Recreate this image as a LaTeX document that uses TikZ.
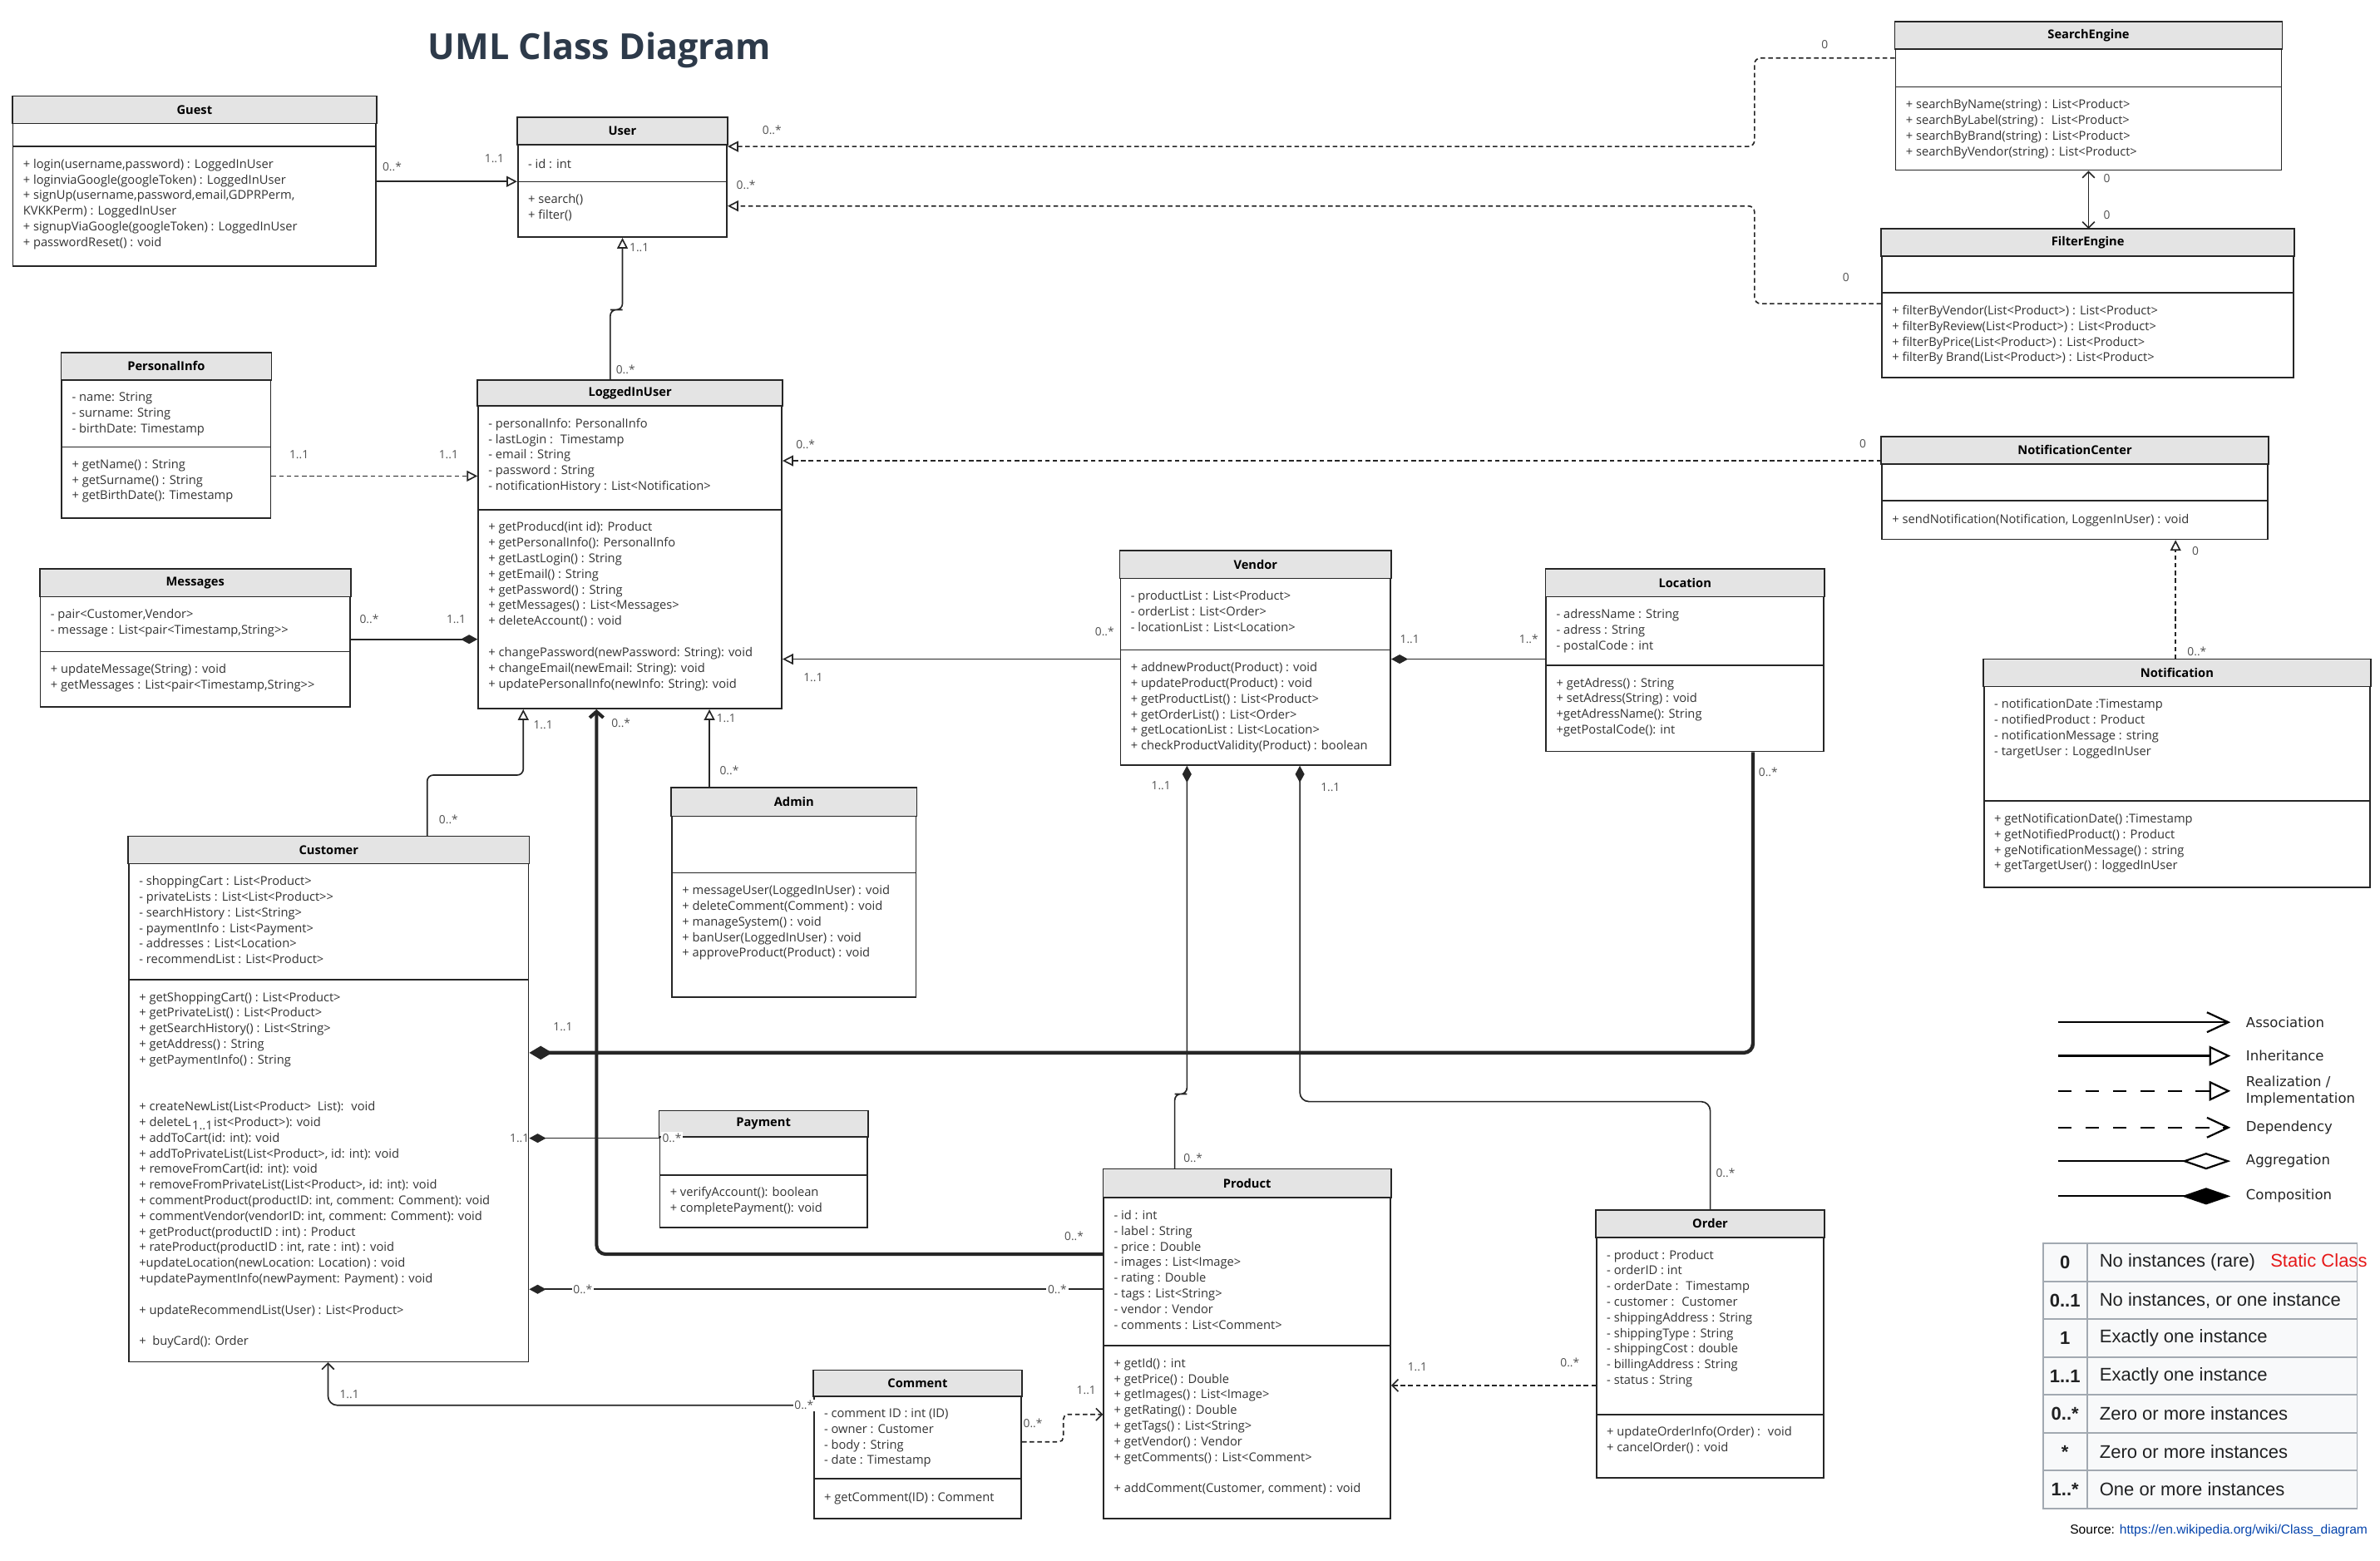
\documentclass[tikz,border=0pt]{standalone}
\usepackage{fontspec}
\setmainfont{Open Sans}
\newfontfamily\legendfont{DejaVu Sans}
\newfontfamily\wikifont{Liberation Sans}
\usepackage{xcolor}
\definecolor{headcolour}{RGB}{228,228,228}
\definecolor{linecolour}{RGB}{38,38,38}
\definecolor{textcolour}{RGB}{51,51,51}
\definecolor{labelcolour}{RGB}{80,80,80}
\definecolor{titlecolour}{RGB}{45,58,74}
\definecolor{tablefill}{RGB}{248,249,250}
\definecolor{tableline}{RGB}{162,169,177}
\definecolor{tabletext}{RGB}{32,33,34}
\definecolor{linkcolour}{RGB}{6,69,173}
\definecolor{staticcolour}{RGB}{230,25,25}
\usetikzlibrary{arrows.meta, shapes.geometric}
\tikzstyle{classbox} = [rectangle, draw=linecolour, fill=white, line width=0.9pt, inner sep=0pt]
\tikzstyle{classhead} = [draw=linecolour, fill=headcolour, line width=0.9pt]
\tikzstyle{classname} = [font=\fontsize{8}{10}\selectfont\bfseries, text=black, inner sep=0pt]
\tikzstyle{classtext} = [anchor=north west, align=left, inner sep=0pt, font=\fontsize{8}{10.25}\selectfont, text=textcolour, execute at begin node=\strut]
\tikzstyle{mult} = [font=\fontsize{7.5}{9}\selectfont, text=labelcolour, inner sep=1pt]
\tikzstyle{multbg} = [mult, fill=white]
\tikzstyle{link} = [line width=0.9pt, draw=linecolour]
\tikzstyle{inherit} = [link, -{Triangle[open, length=7pt, width=7pt]}]
\tikzstyle{realize} = [inherit, dash pattern=on 3pt off 2pt]
\tikzstyle{assoc} = [link, -{Straight Barb[length=4pt, width=8pt]}]
\tikzstyle{assocboth} = [link, {Straight Barb[length=4pt, width=8pt]}-{Straight Barb[length=4pt, width=8pt]}]
\tikzstyle{assocthick} = [link, line width=2.2pt, -{Straight Barb[length=4pt, width=9pt]}]
\tikzstyle{depend} = [assoc, dash pattern=on 3pt off 2pt]
\tikzstyle{compose} = [link, -{Diamond[length=11pt, width=6pt]}]
\tikzstyle{composethick} = [link, line width=2.4pt, -{Diamond[length=15pt, width=9pt]}]
\tikzstyle{legendline} = [line width=1.2pt, draw=black]
\tikzstyle{legendtext} = [anchor=west, align=left, inner sep=0pt, font=\legendfont\fontsize{9}{11}\selectfont, text=black!85]
\tikzstyle{tablenum} = [font=\wikifont\fontsize{12}{14}\selectfont\bfseries, text=tabletext, inner sep=0pt]
\tikzstyle{tabletxt} = [anchor=west, font=\wikifont\fontsize{12}{14}\selectfont, text=tabletext, inner sep=0pt]
\newcommand{\umlclass}[9]{
	\node (#1) [classbox, anchor=north west, minimum width=#3, minimum height=#4+#5+#6] at (#2) {};
	\draw [classhead] (#1.north west) rectangle ([yshift=-#4]#1.north east);
	\draw [link] ([yshift=-#4-#5]#1.north west) -- ([yshift=-#4-#5]#1.north east);
	\node (#1-name) [classname] at ([yshift=-#4/2]#1.north) {#7};
	\node (#1-attrs) [classtext] at ([xshift=7, yshift=-#4-8]#1.north west) {#8};
	\node (#1-ops) [classtext] at ([xshift=7, yshift=-#4-#5-8]#1.north west) {#9};
}
\begin{document}
\begin{tikzpicture}[x=1pt, y=1pt]
	\fill [white] (0,0) rectangle (1560,-1023);
	\useasboundingbox (0,0) rectangle (1560,-1023);
	\node (title) [font=\fontsize{23.5}{28}\selectfont\bfseries, text=titlecolour] at (393,-33) {UML Class Diagram};
	\umlclass{guest}{8,-63}{238}{18}{15}{78}{Guest}{}{+ login(username,password) : LoggedInUser\\+ loginviaGoogle(googleToken) : LoggedInUser\\+ signUp(username,password,email,GDPRPerm,\\KVKKPerm) : LoggedInUser\\+ signupViaGoogle(googleToken) : LoggedInUser\\+ passwordReset() : void}
	\umlclass{user}{339,-77}{137}{18}{24}{36}{User}{- id : int}{+ search()\\+ filter()}
	\umlclass{searchengine}{1242,-14}{253}{18}{25}{54}{SearchEngine}{}{+ searchByName(string) : List<Product>\\+ searchByLabel(string) :~ List<Product>\\+ searchByBrand(string) : List<Product>\\+ searchByVendor(string) : List<Product>}
	\umlclass{filterengine}{1233,-150}{270}{18}{24}{55}{FilterEngine}{}{+ filterByVendor(List<Product>) : List<Product>\\+ filterByReview(List<Product>) : List<Product>\\+ filterByPrice(List<Product>) : List<Product>\\+ filterBy Brand(List<Product>) : List<Product>}
	\umlclass{personalinfo}{40,-231}{137}{18}{44}{46}{PersonalInfo}{- name: String\\- surname: String\\- birthDate: Timestamp}{+ getName() : String\\+ getSurname() : String\\+ getBirthDate(): Timestamp}
	\umlclass{loggedinuser}{313,-249}{199}{17}{68}{130}{LoggedInUser}{- personalInfo: PersonalInfo\\- lastLogin :~ Timestamp\\- email : String\\- password : String\\- notificationHistory : List<Notification>}{+ getProducd(int id): Product\\+ getPersonalInfo(): PersonalInfo\\+ getLastLogin() : String\\+ getEmail() : String\\+ getPassword() : String\\+ getMessages() : List<Messages>\\+ deleteAccount() : void\\[10.25pt]+ changePassword(newPassword: String): void\\+ changeEmail(newEmail: String): void\\+ updatePersonalInfo(newInfo: String): void}
	\umlclass{messages}{26,-373}{203}{18}{36}{36}{Messages}{- pair<Customer,Vendor>\\- message : List<pair<Timestamp,String>{}>}{+ updateMessage(String) : void\\+ getMessages : List<pair<Timestamp,String>{}>}
	\umlclass{notificationcenter}{1233,-286}{253}{18}{24}{25}{NotificationCenter}{}{+ sendNotification(Notification, LoggenInUser) : void}
	\umlclass{notification}{1300,-432}{253}{18}{75}{56}{Notification}{- notificationDate :Timestamp\\- notifiedProduct : Product\\- notificationMessage : string\\- targetUser : LoggedInUser}{+ getNotificationDate() :Timestamp\\+ getNotifiedProduct() : Product\\+ geNotificationMessage() : string\\+ getTargetUser() : loggedInUser}
	\umlclass{vendor}{734,-361}{177}{18}{47}{75}{Vendor}{- productList : List<Product>\\- orderList : List<Order>\\- locationList : List<Location>}{+ addnewProduct(Product) : void\\+ updateProduct(Product) : void\\+ getProductList() : List<Product>\\+ getOrderList() : List<Order>\\+ getLocationList : List<Location>\\+ checkProductValidity(Product) : boolean}
	\umlclass{location}{1013,-373}{182}{18}{45}{56}{Location}{- adressName : String\\- adress : String\\- postalCode : int}{+ getAdress() : String\\+ setAdress(String) : void\\+getAdressName(): String\\+getPostalCode(): int}
	\umlclass{customer}{84,-548}{262}{18}{76}{250}{Customer}{- shoppingCart : List<Product>\\- privateLists : List<List<Product>{}>\\- searchHistory : List<String>\\- paymentInfo : List<Payment>\\- addresses : List<Location>\\- recommendList : List<Product>}{+ getShoppingCart() : List<Product>\\+ getPrivateList() : List<Product>\\+ getSearchHistory() : List<String>\\+ getAddress() : String\\+ getPaymentInfo() : String\\[20.5pt]+ createNewList(List<Product>~ List):~ void\\+ deleteL\makebox[15pt]{\raisebox{-2pt}{1..1}}ist<Product>): void\\+ addToCart(id: int): void\\+ addToPrivateList(List<Product>, id: int): void\\+ removeFromCart(id: int): void\\+ removeFromPrivateList(List<Product>, id: int): void\\+ commentProduct(productID: int, comment: Comment): void\\+ commentVendor(vendorID: int, comment: Comment): void\\+ getProduct(productID : int) : Product\\+ rateProduct(productID : int, rate : int) : void\\+updateLocation(newLocation: Location) : void\\+updatePaymentInfo(newPayment: Payment) : void\\[10.25pt]+ updateRecommendList(User) : List<Product>\\[10.25pt]+~ buyCard(): Order}
	\umlclass{admin}{440,-516}{160}{19}{37}{81}{Admin}{}{+ messageUser(LoggedInUser) : void\\+ deleteComment(Comment) : void\\+ manageSystem() : void\\+ banUser(LoggedInUser) : void\\+ approveProduct(Product) : void}
	\umlclass{payment}{432,-728}{136}{17}{25}{34}{Payment}{}{+ verifyAccount(): boolean\\+ completePayment(): void}
	\umlclass{product}{723,-766}{188}{19}{97}{113}{Product}{- id : int\\- label : String\\- price : Double\\- images : List<Image>\\- rating : Double\\- tags : List<String>\\- vendor : Vendor\\- comments : List<Comment>}{+ getId() : int\\+ getPrice() : Double\\+ getImages() : List<Image>\\+ getRating() : Double\\+ getTags() : List<String>\\+ getVendor() : Vendor\\+ getComments() : List<Comment>\\[10.25pt]+ addComment(Customer, comment) : void}
	\umlclass{order}{1046,-793}{149}{18}{116}{41}{Order}{- product : Product\\- orderID : int\\- orderDate :~ Timestamp\\- customer :~ Customer\\- shippingAddress : String\\- shippingType : String\\- shippingCost : double\\- billingAddress : String\\- status : String}{+ updateOrderInfo(Order) :~ void\\+ cancelOrder() : void}
	\umlclass{comment}{533,-898}{136}{17}{54}{26}{Comment}{- comment ID : int (ID)\\- owner : Customer\\- body : String\\- date : Timestamp}{+ getComment(ID) : Comment}
	\draw [inherit] (guest.east) -- (guest.east -| user.west);
	\draw [realize, rounded corners=4] (searchengine.west |- 0,-38) -| (1150,-60) |- (user.east |- 0,-96);
	\draw [realize, rounded corners=4] (filterengine.west |- 0,-199) -| (1150,-170) |- (user.east |- 0,-135);
	\draw [assocboth] (searchengine.south) -- (searchengine.south |- filterengine.north);
	\draw [inherit, rounded corners=4] (loggedinuser.north -| 400,0) |- (404,-203) -| (user.south -| 408,0);
	\draw [realize] (personalinfo.east |- 0,-312) -- (loggedinuser.west |- 0,-312);
	\draw [compose] (messages.east |- 0,-419) -- (loggedinuser.west |- 0,-419);
	\draw [realize] (notificationcenter.west |- 0,-302) -- (loggedinuser.east |- 0,-302);
	\draw [inherit] (vendor.west |- 0,-432) -- (loggedinuser.east |- 0,-432);
	\draw [inherit, rounded corners=4] (customer.north -| 280,0) |- (310,-508) -| (loggedinuser.south -| 343,0);
	\draw [assocthick, rounded corners=6] (product.west |- 0,-822) -| (loggedinuser.south -| 391,0);
	\draw [inherit] (admin.north -| 465,0) -- (loggedinuser.south -| 465,0);
	\draw [compose] (location.west |- 0,-432) -- (vendor.east |- 0,-432);
	\draw [composethick, rounded corners=6] (location.south -| 1149,0) |- (customer.east |- 0,-690);
	\draw [compose, rounded corners=4] (product.north -| 770,0) |- (774,-717) -| (vendor.south -| 778,0);
	\draw [compose, rounded corners=6] (order.north -| 1121,0) |- (852,-722) -- (vendor.south -| 852,0);
	\draw [compose] (payment.west |- 0,-746) -- (customer.east |- 0,-746);
	\draw [compose] (product.west |- 0,-845) -- (customer.east |- 0,-845);
	\draw [assoc, rounded corners=6] (comment.west |- 0,-921) -| (customer.south -| 215,0);
	\draw [depend, rounded corners=3] (comment.east |- 0,-945) -| (697,-936) |- (product.west |- 0,-927);
	\draw [depend] (order.west |- 0,-908) -- (product.east |- 0,-908);
	\draw [realize] (notification.north -| 1426,0) -- (notificationcenter.south -| 1426,0);
	\node (guest-m) [mult] at (257,-109) {0..*};
	\node (user-m) [mult] at (324,-104) {1..1};
	\node (search-m) [mult] at (1196,-29) {0};
	\node (search-user-m) [mult] at (506,-85) {0..*};
	\node (filter-m) [mult] at (1210,-182) {0};
	\node (filter-user-m) [mult] at (489,-121) {0..*};
	\node (search-filter-m) [mult] at (1381,-117) {0};
	\node (filter-search-m) [mult] at (1381,-141) {0};
	\node (user-login-m) [mult] at (419,-162) {1..1};
	\node (login-user-m) [mult] at (410,-242) {0..*};
	\node (personal-m) [mult] at (196,-298) {1..1};
	\node (personal-login-m) [mult] at (294,-298) {1..1};
	\node (messages-m) [mult] at (242,-406) {0..*};
	\node (messages-login-m) [mult] at (299,-406) {1..1};
	\node (centre-login-m) [mult] at (528,-291) {0..*};
	\node (centre-m) [mult] at (1221,-291) {0};
	\node (vendor-m) [mult] at (724,-414) {0..*};
	\node (vendor-login-m) [mult] at (533,-444) {1..1};
	\node (customer-login-m) [mult] at (356,-475) {1..1};
	\node (customer-m) [mult] at (294,-537) {0..*};
	\node (product-login-m) [mult] at (407,-474) {0..*};
	\node (product-m) [mult] at (704,-810) {0..*};
	\node (admin-login-m) [mult] at (476,-471) {1..1};
	\node (admin-m) [mult] at (478,-505) {0..*};
	\node (vendor-location-m) [mult] at (924,-419) {1..1};
	\node (location-m) [mult] at (1002,-419) {1..*};
	\node (location-customer-m) [mult] at (1159,-506) {0..*};
	\node (customer-location-m) [mult] at (369,-673) {1..1};
	\node (vendor-product-m) [mult] at (761,-515) {1..1};
	\node (product-vendor-m) [mult] at (782,-759) {0..*};
	\node (vendor-order-m) [mult] at (872,-516) {1..1};
	\node (order-vendor-m) [mult] at (1131,-769) {0..*};
	\node (customer-payment-m) [mult, anchor=east] at (348,-746) {1..1};
	\node (payment-m) [multbg, anchor=west] at (433,-746) {0..*};
	\node (customer-product-m) [multbg] at (382,-845) {0..*};
	\node (product-customer-m) [multbg] at (693,-845) {0..*};
	\node (customer-comment-m) [mult] at (229,-914) {1..1};
	\node (comment-customer-m) [multbg] at (527,-921) {0..*};
	\node (comment-product-m) [mult] at (677,-933) {0..*};
	\node (product-comment-m) [mult] at (712,-911) {1..1};
	\node (product-order-m) [mult] at (929,-896) {1..1};
	\node (order-product-m) [mult] at (1029,-893) {0..*};
	\node (centre-note-m) [mult] at (1439,-361) {0};
	\node (note-m) [multbg] at (1440,-427) {0..*};
	\draw [legendline, -{Straight Barb[length=14pt, width=13pt]}] (1349,-670) -- (1462,-670);
	\draw [legendline, -{Triangle[open, length=14pt, width=13pt]}] (1349,-692) -- (1462,-692);
	\draw [legendline, dash pattern=on 9pt off 9pt, -{Triangle[open, length=14pt, width=13pt]}] (1349,-715) -- (1462,-715);
	\draw [legendline, dash pattern=on 9pt off 9pt, -{Straight Barb[length=14pt, width=13pt]}] (1349,-739) -- (1462,-739);
	\draw [legendline, -{Diamond[open, length=32pt, width=11pt]}] (1349,-761) -- (1462,-761);
	\draw [legendline, -{Diamond[length=32pt, width=11pt]}] (1349,-784) -- (1462,-784);
	\node (lg-assoc) [legendtext] at (1472,-670) {Association};
	\node (lg-inherit) [legendtext] at (1472,-692) {Inheritance};
	\node (lg-realize) [legendtext] at (1472,-715) {Realization /\\Implementation};
	\node (lg-depend) [legendtext] at (1472,-739) {Dependency};
	\node (lg-aggregate) [legendtext] at (1472,-761) {Aggregation};
	\node (lg-compose) [legendtext] at (1472,-784) {Composition};
	\filldraw [fill=tablefill, draw=tableline, line width=1pt] (1339,-815) rectangle (1545,-988.6);
	\draw [tableline, line width=1pt] (1368,-815) -- (1368,-988.6);
	\draw [tableline, line width=1pt] (1339,-839.8) -- (1545,-839.8);
	\draw [tableline, line width=1pt] (1339,-864.6) -- (1545,-864.6);
	\draw [tableline, line width=1pt] (1339,-889.4) -- (1545,-889.4);
	\draw [tableline, line width=1pt] (1339,-914.2) -- (1545,-914.2);
	\draw [tableline, line width=1pt] (1339,-939) -- (1545,-939);
	\draw [tableline, line width=1pt] (1339,-963.8) -- (1545,-963.8);
	\node (t-0) [tablenum] at (1353.5,-827.4) {0};
	\node (t-01) [tablenum] at (1353.5,-852.2) {0..1};
	\node (t-1) [tablenum] at (1353.5,-877) {1};
	\node (t-11) [tablenum] at (1353.5,-901.8) {1..1};
	\node (t-0n) [tablenum] at (1353.5,-926.6) {0..*};
	\node (t-n) [tablenum] at (1353.5,-951.4) {*};
	\node (t-1n) [tablenum] at (1353.5,-976.2) {1..*};
	\node (d-0) [tabletxt] at (1376,-827.4) {No instances (rare)};
	\node (d-01) [tabletxt] at (1376,-852.2) {No instances, or one instance};
	\node (d-1) [tabletxt] at (1376,-877) {Exactly one instance};
	\node (d-11) [tabletxt] at (1376,-901.8) {Exactly one instance};
	\node (d-0n) [tabletxt] at (1376,-926.6) {Zero or more instances};
	\node (d-n) [tabletxt] at (1376,-951.4) {Zero or more instances};
	\node (d-1n) [tabletxt] at (1376,-976.2) {One or more instances};
	\node (static) [tabletxt, text=staticcolour] at (1488,-826) {Static Class};
	\node (source) [anchor=east, inner sep=0pt, font=\wikifont\fontsize{8.5}{10}\selectfont] at (1552,-1003) {Source: \textcolor{linkcolour}{https://en.wikipedia.org/wiki/Class\_diagram}};
\end{tikzpicture}
\end{document}
